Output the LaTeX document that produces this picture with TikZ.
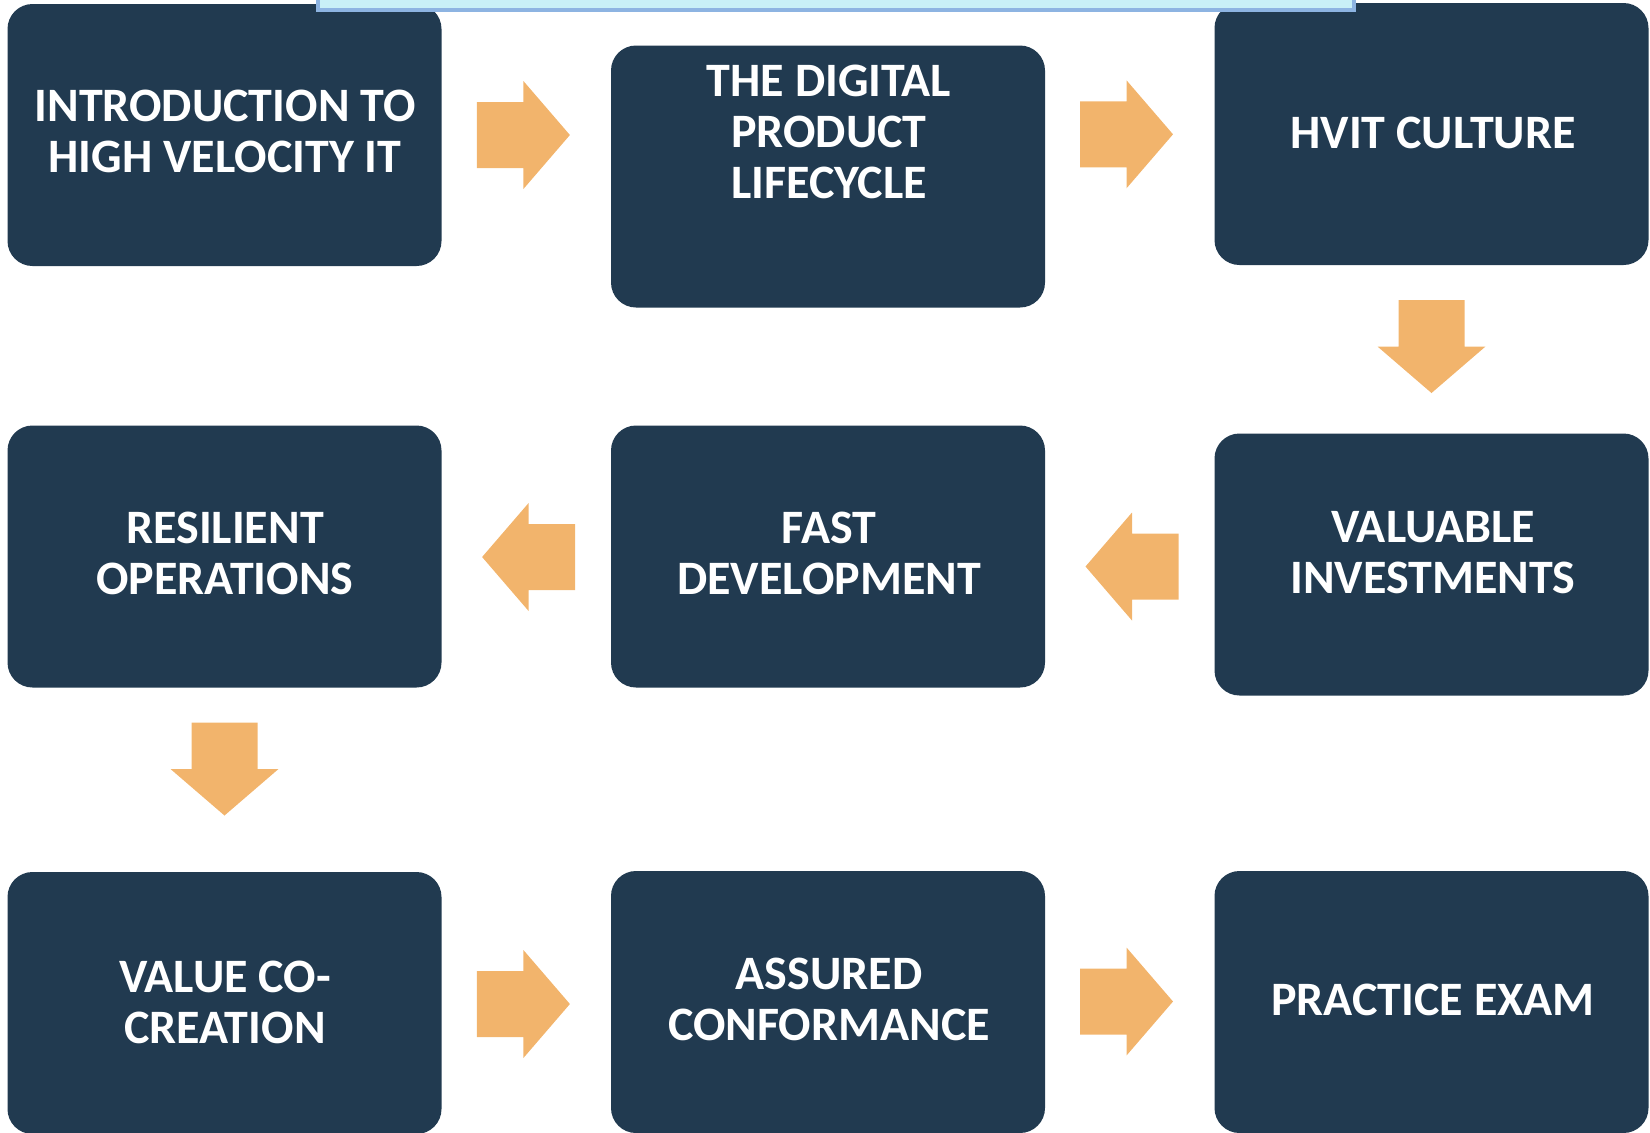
\documentclass[tikz,border=0pt]{standalone}
\usepackage{fontspec}
\setmainfont{Carlito}

\definecolor{boxfill}{HTML}{213A50}
\definecolor{arrowfill}{HTML}{F2B46C}
\definecolor{barline}{HTML}{8DB4E2}
\definecolor{barfill}{HTML}{C8F0F7}

\begin{document}
\begin{tikzpicture}[x=0.5pt, y=-0.5pt,
	box/.style={fill=boxfill, rounded corners=12.5pt, minimum width=217pt, minimum height=131pt, inner sep=0pt},
	txt/.style={text=white, font=\fontsize{24}{25.5}\selectfont\bfseries, align=center, inner sep=0pt},
	blockarrow/.pic={\fill[arrowfill] (-46.5,-33) -- (0,-33) -- (0,-54) -- (46.5,0) -- (0,54) -- (0,33) -- (-46.5,33) -- cycle;}]
	\useasboundingbox (0,0) rectangle (1650,1132);

	% boxes
	\node[box] (b1) at (224.5, 135) {};
	\node[box] (b2) at (828, 176.5) {};
	\node[box] (b3) at (1431.5, 134) {};
	\node[box] (b4) at (224.5, 556.5) {};
	\node[box] (b5) at (828, 556.5) {};
	\node[box] (b6) at (1431.5, 564.5) {};
	\node[box] (b7) at (224.5, 1003) {};
	\node[box] (b8) at (828, 1002) {};
	\node[box] (b9) at (1431.5, 1002) {};

	% bar at the top edge
	\fill[barline] (316, -20) rectangle (1356, 12);
	\fill[barfill] (320, -20) rectangle (1352, 8);

	% texts
	\node[txt] (t1) at (225, 131.5) {INTRODUCTION TO\\HIGH VELOCITY IT};
	\node[txt] (t2) at (829, 131.5) {THE DIGITAL\\PRODUCT\\LIFECYCLE};
	\node[txt] (t3) at (1433, 132.5) {HVIT CULTURE};
	\node[txt] (t4) at (225, 553) {RESILIENT\\OPERATIONS};
	\node[txt] (t5) at (829, 553) {FAST\\DEVELOPMENT};
	\node[txt] (t6) at (1433, 553) {VALUABLE\\INVESTMENTS};
	\node[txt] (t7) at (225, 1002) {VALUE CO-\\CREATION};
	\node[txt] (t8) at (829, 999) {ASSURED\\CONFORMANCE};
	\node[txt] (t9) at (1433, 999.5) {PRACTICE EXAM};

	% arrows
	\pic at (523.4, 135) {blockarrow};
	\pic at (1126.5, 134.3) {blockarrow};
	\pic[rotate=-90] at (1431.5, 346.5) {blockarrow};
	\pic[rotate=180] at (1132, 566.5) {blockarrow};
	\pic[rotate=180] at (528.6, 557) {blockarrow};
	\pic[rotate=-90] at (224.5, 769) {blockarrow};
	\pic at (523.4, 1004) {blockarrow};
	\pic at (1126.5, 1001.5) {blockarrow};
\end{tikzpicture}
\end{document}
